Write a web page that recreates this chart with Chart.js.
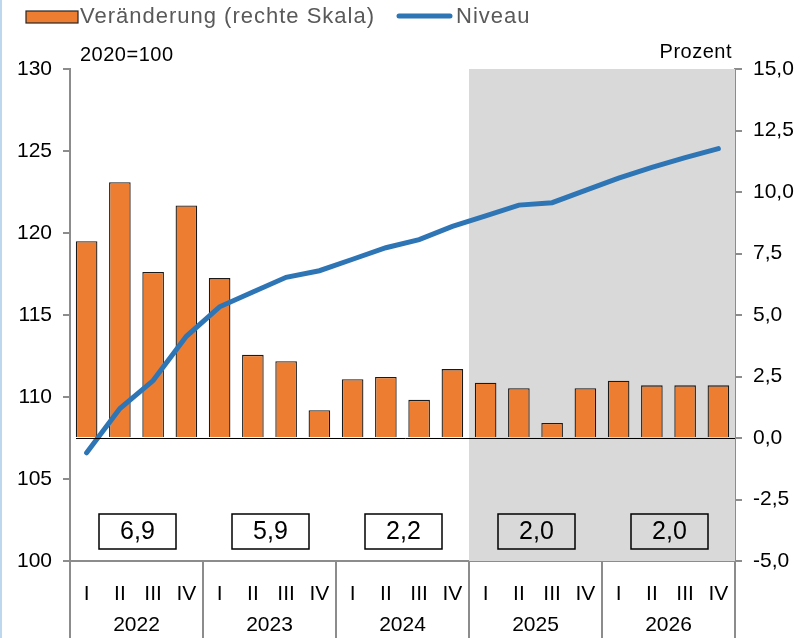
<!DOCTYPE html>
<html>
<head>
<meta charset="utf-8">
<script src="https://cdn.jsdelivr.net/npm/chart.js@4.4.1/dist/chart.umd.min.js"></script>
<style>
  html, body { margin: 0; padding: 0; background: #fff; }
  #wrap { position: relative; width: 805px; height: 638px; }
</style>
</head>
<body>
<div id="wrap"><canvas id="chart" width="805" height="638"></canvas></div>
<script>
// Daten
var quarters = ['I','II','III','IV','I','II','III','IV','I','II','III','IV','I','II','III','IV','I','II','III','IV'];
var years = ['2022','2023','2024','2025','2026'];
var annual = ['6,9','5,9','2,2','2,0','2,0'];
var change = [8.0, 10.4, 6.75, 9.45, 6.5, 3.38, 3.12, 1.13, 2.39, 2.48, 1.55, 2.8, 2.25, 2.02, 0.61, 2.02, 2.33, 2.14, 2.14, 2.14];
var level = [106.6, 109.3, 111.0, 113.7, 115.5, 116.4, 117.3, 117.7, 118.4, 119.1, 119.6, 120.4, 121.05, 121.7, 121.85, 122.6, 123.35, 124.0, 124.6, 125.15];
var forecastStart = 12; // ab 2025 I grau hinterlegt

var FONT = "'Liberation Sans', Arial, sans-serif";
var AXIS = '#8c8c8c';

var extras = {
  id: 'extras',
  beforeDatasetsDraw: function(chart) {
    var ctx = chart.ctx, a = chart.chartArea;
    var step = (a.right - a.left) / quarters.length;
    ctx.save();
    // Prognosezeitraum
    ctx.fillStyle = '#d9d9d9';
    var sx = a.left + step * forecastStart;
    ctx.fillRect(sx, a.top, a.right - sx, a.bottom - a.top);
    // Jahreswerte
    ctx.font = '25px ' + FONT;
    ctx.textAlign = 'center';
    ctx.textBaseline = 'middle';
    for (var i = 0; i < years.length; i++) {
      var cx = a.left + step * (i * 4 + 2);
      ctx.strokeStyle = '#000';
      ctx.lineWidth = 1.5;
      ctx.strokeRect(cx - 37.5, 514, 77, 35);
      ctx.fillStyle = '#000';
      ctx.fillText(annual[i], cx + 1, 532);
    }
    ctx.restore();
  },
  afterDatasetsDraw: function(chart) {
    var ctx = chart.ctx, a = chart.chartArea, y1 = chart.scales.y1;
    ctx.save();
    // Nulllinie (rechte Skala)
    var zy = Math.round(y1.getPixelForValue(0)) + 0.5;
    ctx.strokeStyle = '#000';
    ctx.lineWidth = 1;
    ctx.beginPath();
    ctx.moveTo(a.left + 6, zy);
    ctx.lineTo(a.right, zy);
    ctx.stroke();
    ctx.restore();
  },
  afterDraw: function(chart) {
    var ctx = chart.ctx, a = chart.chartArea;
    var step = (a.right - a.left) / quarters.length;
    ctx.save();
    // Jahrestrenner
    ctx.strokeStyle = AXIS;
    ctx.lineWidth = 2;
    for (var i = 0; i <= years.length; i++) {
      var lx = a.left + step * i * 4;
      ctx.beginPath();
      ctx.moveTo(lx, a.bottom);
      ctx.lineTo(lx, 638);
      ctx.stroke();
    }
    ctx.fillStyle = '#000';
    ctx.font = '21px ' + FONT;
    ctx.textAlign = 'center';
    ctx.textBaseline = 'middle';
    for (var j = 0; j < years.length; j++) {
      ctx.fillText(years[j], a.left + step * (j * 4 + 2), 625);
    }
    // Achsentitel
    ctx.font = '20px ' + FONT;
    ctx.letterSpacing = '0.5px';
    ctx.textAlign = 'left';
    ctx.fillText('2020=100', 80, 55);
    ctx.textAlign = 'right';
    ctx.fillText('Prozent', 732, 52);
    // Legende
    ctx.fillStyle = '#ed7d31';
    ctx.fillRect(26, 11, 52, 12);
    ctx.strokeStyle = '#262626';
    ctx.lineWidth = 1.2;
    ctx.strokeRect(26, 11, 52, 12);
    ctx.fillStyle = '#595959';
    ctx.font = '22px ' + FONT;
    ctx.letterSpacing = '1px';
    ctx.textAlign = 'left';
    ctx.fillText('Veränderung (rechte Skala)', 80, 17);
    ctx.strokeStyle = '#2e75b6';
    ctx.lineWidth = 5;
    ctx.lineCap = 'round';
    ctx.beginPath();
    ctx.moveTo(399, 16);
    ctx.lineTo(450, 16);
    ctx.stroke();
    ctx.fillText('Niveau', 456, 17);
    // linker Rand
    ctx.fillStyle = '#bdd7ee';
    ctx.fillRect(0, 0, 2, 638);
    ctx.restore();
  }
};

new Chart(document.getElementById('chart'), {
  data: {
    labels: quarters,
    datasets: [
      {
        type: 'line',
        label: 'Niveau',
        data: level,
        yAxisID: 'y',
        borderColor: '#2e75b6',
        borderWidth: 5,
        pointRadius: 0,
        tension: 0,
        borderCapStyle: 'round',
        order: 0
      },
      {
        type: 'bar',
        label: 'Veränderung (rechte Skala)',
        data: change,
        yAxisID: 'y1',
        backgroundColor: '#ed7d31',
        borderColor: '#1a1a1a',
        borderWidth: 1.3,
        barPercentage: 0.65,
        categoryPercentage: 1.0,
        order: 1
      }
    ]
  },
  options: {
    responsive: false,
    animation: false,
    layout: { padding: { top: 69, left: 0, right: 0, bottom: 0 } },
    plugins: { legend: { display: false }, tooltip: { enabled: false } },
    scales: {
      x: {
        offset: true,
        grid: { display: false },
        border: { display: true, color: AXIS, width: 2 },
        ticks: { color: '#000', font: { family: FONT, size: 21 }, padding: 13, maxRotation: 0, autoSkip: false },
        afterFit: function(s) { s.height = 77; }
      },
      y: {
        position: 'left',
        min: 100, max: 130,
        ticks: { stepSize: 5, color: '#000', font: { family: FONT, size: 21 }, padding: 11 },
        grid: { drawOnChartArea: false, color: AXIS, tickLength: 7, lineWidth: 2 },
        border: { color: AXIS, width: 2 },
        afterFit: function(s) { s.width = 70; }
      },
      y1: {
        position: 'right',
        min: -5, max: 15,
        ticks: {
          stepSize: 2.5, color: '#000', font: { family: FONT, size: 21 }, padding: 11,
          callback: function(v) { return v.toFixed(1).replace('.', ','); }
        },
        grid: { drawOnChartArea: false, color: AXIS, tickLength: 7, lineWidth: 2 },
        border: { color: AXIS, width: 2 },
        afterFit: function(s) { s.width = 70; }
      }
    }
  },
  plugins: [extras]
});
</script>
</body>
</html>
